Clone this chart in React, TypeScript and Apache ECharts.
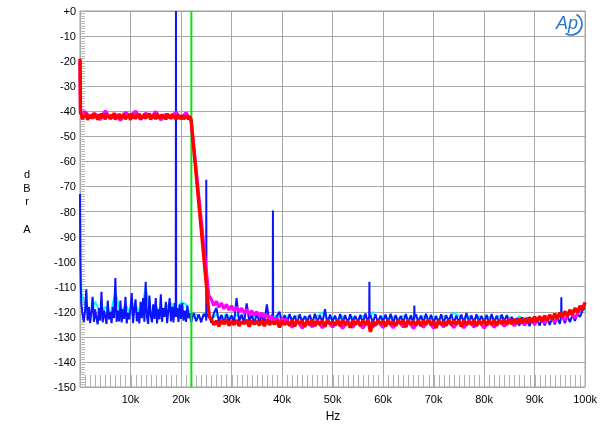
import React, { useEffect, useRef } from "react";
import * as echarts from "echarts";

// ---- axis ticks ----
const X_MIN = 0;
const X_MAX = 100000;
const X_STEP = 10000;
const X_MINOR_STEP = 1000;
const Y_MIN = -150;
const Y_MAX = 0;
const Y_STEP = 10;
const MARKER_HZ = 22050;

// ---- red trace ----
const redHead = [[0, -19], [100, -41]];
const redLow = [
  -41.0, -43.2, -41.6, -42.4, -40.7, -43.5, -41.9, -42.8,
  -41.2, -43.0, -40.6, -42.6, -41.8, -43.4, -41.1, -42.9,
  -40.9, -42.7, -41.5, -43.3, -40.8, -42.5, -41.7, -43.1,
  -41.3, -42.8, -40.6, -43.4, -41.6, -42.6, -41.0, -43.0,
  -41.4, -42.7, -40.8, -43.2, -41.9, -42.5, -41.1, -43.5,
  -40.7, -42.9, -41.5, -43.1, -41.2, -42.6, -40.9, -43.3,
  -41.7, -42.8, -41.0, -43.0, -41.4, -42.5, -40.8, -43.4,
  -41.6, -42.7, -41.1, -43.2, -40.9, -42.9, -41.5, -43.0,
  -41.2, -42.6, -41.8, -43.3, -40.9, -42.8, -41.4, -43.1,
  -41.0, -42.7, -41.6, -43.4, -41.3, -42.9, -41.7, -43.0,
  -41.5, -43.2, -41.9, -42.8, -41.6, -43.3, -42.0, -43.4,
]; // 0.25k .. 22k, 0.25k step
const redDropEnd = [25600, -122];
const redHigh = [
  -123.0, -125.2, -123.6, -125.8, -123.4, -124.9, -123.1, -125.5, -123.8, -125.1,
  -123.3, -125.6, -123.9, -124.8, -123.2, -125.9, -123.5, -125.0, -123.7, -125.4,
  -123.4, -125.7, -123.0, -125.2, -123.8, -124.9, -123.3, -126.2, -123.6, -125.1,
  -123.9, -125.5, -123.2, -125.8, -123.5, -124.7, -123.7, -126.0, -123.4, -125.3,
  -123.1, -125.6, -123.8, -125.0, -123.6, -125.9, -123.3, -124.8, -124.0, -125.4,
  -123.5, -125.7, -123.2, -125.1, -123.9, -126.3, -123.4, -125.0, -123.7, -125.6,
  -123.6, -125.2, -123.1, -128.0, -123.8, -125.5, -123.4, -124.9, -123.7, -125.8,
  -123.3, -125.1, -123.9, -125.6, -123.2, -124.8, -123.6, -126.1, -123.5, -125.0,
  -123.8, -125.4, -123.3, -125.7, -123.6, -124.9, -123.1, -125.3, -123.7, -126.4,
  -123.4, -125.0, -123.9, -125.5, -123.2, -125.2, -123.6, -124.8, -123.5, -125.9,
  -123.3, -125.3, -123.8, -125.0, -123.4, -125.6, -123.7, -124.9, -123.2, -125.4,
  -123.6, -125.1, -123.3, -125.5, -123.5, -124.8, -123.1, -125.2, -123.0, -124.9,
  -122.9, -124.8, -122.7, -124.6, -122.6, -124.5, -122.3, -124.2, -122.0, -124.0,
  -121.9, -123.8, -121.6, -123.5, -121.2, -123.1, -120.8, -122.7, -120.3, -122.2,
  -119.8, -121.6, -119.2, -121.0, -118.5, -120.2, -117.6, -119.3, -116.2,
]; // 26k .. 100k, 0.5k step

// ---- magenta trace ----
const magHead = [[0, -20], [100, -40.5]];
const magLow = [
  -40.2, -42.5, -41.0, -43.4, -39.8, -42.9, -41.3, -43.6, -40.4, -42.2,
  -39.9, -43.3, -40.8, -42.7, -40.1, -43.5, -41.2, -42.4, -40.3, -43.1,
  -40.6, -43.6,
]; // 1k .. 22k, 1k step
const magDropEnd = [25500, -113.5];
const magMid = [
  -115.0, -117.5, -115.8, -118.2, -116.5, -118.8, -117.0, -119.3, -117.6, -119.6,
  -118.1, -120.0, -118.6, -120.5, -119.0, -121.0, -119.6, -121.4, -120.0, -121.8,
  -120.5, -122.3, -121.2, -123.0, -121.8, -123.6, -122.4, -124.5, -122.8,
]; // 26k .. 40k, 0.5k step
const magHigh = [
  -123.6, -126.2, -123.4, -126.5, -123.8, -126.0, -123.5, -126.4, -123.7, -126.1,
  -123.4, -126.6, -123.9, -126.2, -123.5, -126.5, -123.6, -126.0, -123.8, -126.3,
  -123.5, -126.4, -123.7, -126.1, -123.4, -126.6, -123.8, -126.2, -123.6, -126.5,
  -123.9, -126.0, -123.5, -126.3, -123.7, -126.4, -123.4, -126.1, -123.6, -126.5,
  -123.5, -126.2, -123.3, -125.8, -123.0, -125.6, -122.8, -125.3, -122.5, -125.0,
  -122.1, -124.6, -121.6, -124.1, -121.0, -123.4, -120.2, -122.5, -119.0, -117.0,
]; // 41k .. 100k, 1k step

// ---- blue trace ----
const blueHead = [[0, -73], [80, -100], [160, -110]];
const blueLow = [
  -116.5, -121.0, -124.0, -119.5, -111.0, -123.5, -118.0, -124.5,
  -120.0, -114.0, -124.0, -119.0, -122.5, -125.0, -118.5, -123.5,
  -112.0, -124.2, -119.5, -122.0, -124.8, -115.5, -123.0, -120.0,
  -124.5, -118.0, -122.5, -106.5, -124.0, -119.5, -123.8, -115.5,
  -124.2, -119.0, -122.8, -114.0, -124.6, -120.5, -123.0, -118.5,
  -112.5, -124.5, -119.0, -115.0, -123.8, -120.0, -124.6, -116.0,
  -122.5, -114.5, -124.0, -108.0, -122.0, -124.8, -113.5, -121.5,
  -124.2, -117.0, -122.8, -114.5, -124.6, -119.0, -123.0, -113.0,
  -124.0, -118.5, -122.0, -116.0, -124.5, -119.5, -114.5, -123.8,
  -118.0, -124.2, -116.5, -122.0, -118.5, -124.0, -117.0, -122.8,
  -116.5, -123.5, -119.5, -124.0, -117.5, -122.5, -120.5, -124.3,
]; // 0.25k .. 22k, 0.25k step
const blueHigh = [
  -120.5, -123.8, -121.0, -124.2, -120.8, -123.5,
  -121.0, -124.4, -120.6, -118.5, -123.9, -121.2, -124.6, -120.9, -123.7, -121.4,
  -124.5, -114.5, -123.8, -121.1, -124.3, -116.6, -123.6, -121.3, -124.7, -120.8,
  -124.1, -121.5, -123.9, -117.0, -124.4, -121.2, -124.0, -121.6, -120.0, -124.5,
  -121.3, -124.2, -120.9, -123.8, -121.5, -124.6, -121.0, -124.1, -121.7, -123.9,
  -121.2, -124.5, -120.8, -124.0, -121.4, -124.3, -119.0, -124.6, -121.1, -123.8,
  -121.5, -124.4, -120.9, -124.1, -121.3, -124.7, -121.0, -123.9, -121.6, -124.2,
  -121.2, -124.5, -120.7, -124.0, -121.4, -124.3, -121.0, -124.6, -121.5, -123.8,
  -121.1, -124.2, -120.8, -124.5, -121.3, -123.9, -121.6, -124.4, -120.9, -124.1,
  -121.4, -124.6, -121.0, -123.9, -121.5, -124.3, -120.8, -124.0, -121.2, -124.5,
  -121.6, -124.2, -121.0, -124.4, -121.3, -123.8, -120.9, -124.6, -121.5, -124.1,
  -121.1, -124.3, -120.5, -124.0, -121.4, -124.5, -121.0, -123.9, -121.6, -124.2,
  -121.2, -124.6, -120.9, -124.1, -121.5, -124.4, -121.1, -123.8, -121.3, -124.5,
  -122.0, -125.2, -122.6, -125.6, -122.2, -125.0, -122.4, -125.7, -122.5, -125.3,
  -122.8, -125.5, -122.6, -125.4, -122.3, -125.2, -122.4, -125.0, -122.1, -124.8,
  -121.8, -124.5, -121.6, -124.1, -121.3, -123.6, -120.8, -122.0, -119.4, -118.5,
]; // 22.5k .. 100k, 0.5k step
const blueSpikes = [
  [19000, 0],
  [25000, -67.3],
  [38200, -79.6],
  [57300, -108],
  [66200, -117.5],
  [95300, -114.2],
];
const blueSpikeBase = -122;

// ---- cyan trace ----
const cyanHead = [[0, -75], [100, -102], [300, -113]];
const cyanNoise = [
  -117.5, -121.0, -116.0, -120.5, -118.0, -121.5, -112.0, -120.8, -117.0, -121.2,
  -117.5, -120.6, -110.5, -121.0, -117.8, -120.4, -118.0, -116.5, -120.8, -116.0,
  -117.0, -121.2, -121.0, -122.8, -120.8, -123.0, -121.2, -122.9, -121.0, -122.7,
  -121.2, -123.0, -119.5, -122.8, -121.1, -123.1, -120.5, -122.9, -121.3, -123.0,
  -121.8, -123.4, -121.6, -123.2, -122.0, -123.5, -121.7, -120.2, -123.3, -121.9,
  -123.4, -121.7, -123.2, -122.0, -123.5, -121.6, -123.3, -120.0, -123.4, -121.8,
  -123.2, -121.9, -123.5, -121.6, -123.3, -122.0, -123.4, -121.7, -123.2, -121.9,
  -123.5, -121.6, -123.3, -120.3, -121.6, -123.2, -121.8, -123.4, -121.7, -123.3,
  -121.9, -123.5, -121.6, -123.2, -122.0, -123.4, -121.8, -123.3, -122.1, -123.6,
  -121.6, -123.4, -121.4, -123.2, -121.0, -122.8, -120.6, -121.8, -120.0, -119.0,
]; // 1k .. 100k, 1k step

function onGrid(startHz: number, stepHz: number, values: number[]) {
  return values.map((v, i) => [startHz + i * stepHz, v]);
}

function withSpikes(base: number[][], spikes: number[][], floor: number) {
  const extra: number[][] = [];
  spikes.forEach(([f, p]) => {
    extra.push([f - 40, floor], [f, p], [f + 40, floor]);
  });
  return [...base, ...extra].sort((a, b) => a[0] - b[0]);
}

const FONT = "'Liberation Sans', Arial, sans-serif";

export default function App() {
  const ref = useRef<HTMLDivElement>(null);

  useEffect(() => {
    if (!ref.current) return;
    const chart = echarts.init(ref.current, undefined, { renderer: "svg" });

    const redData = [
      ...redHead,
      ...onGrid(250, 250, redLow),
      redDropEnd,
      ...onGrid(26000, 500, redHigh),
    ];
    const magData = [
      ...magHead,
      ...onGrid(1000, 1000, magLow),
      magDropEnd,
      ...onGrid(26000, 500, magMid),
      ...onGrid(41000, 1000, magHigh),
    ];
    const blueData = withSpikes(
      [...blueHead, ...onGrid(250, 250, blueLow), ...onGrid(22500, 500, blueHigh)],
      blueSpikes,
      blueSpikeBase
    );
    const cyanData = [...cyanHead, ...onGrid(1000, 1000, cyanNoise)];

    // minor tick positions along the bottom axis
    const xMinorTicks: number[][] = [];
    for (let f = X_MIN; f <= X_MAX; f += X_MINOR_STEP) xMinorTicks.push([f, Y_MIN]);

    const line = (name: string, data: number[][], color: string, width: number) => ({
      name,
      type: "line",
      data,
      showSymbol: false,
      symbol: "none",
      silent: true,
      clip: true,
      lineStyle: { color, width, join: "bevel" },
    });

    chart.setOption({
      animation: false,
      grid: {
        left: 80,
        right: 14,
        top: 11,
        bottom: 46,
        show: true,
        borderColor: "#a0a0a0",
        borderWidth: 1,
      },
      xAxis: {
        type: "value",
        min: X_MIN,
        max: X_MAX,
        interval: X_STEP,
        axisLine: { show: true, lineStyle: { color: "#a0a0a0" } },
        axisTick: { show: false },
        minorTick: { show: false },
        splitLine: { show: true, lineStyle: { color: "#a8a8a8", width: 1 } },
        axisLabel: {
          margin: 6,
          color: "#000",
          fontFamily: FONT,
          fontSize: 11,
          formatter: (v: number) => (v === 0 ? "" : v / 1000 + "k"),
        },
      },
      yAxis: {
        type: "value",
        min: Y_MIN,
        max: Y_MAX,
        interval: Y_STEP,
        axisLine: { show: true, lineStyle: { color: "#a0a0a0" } },
        axisTick: { show: true, inside: true, length: 5, lineStyle: { color: "#b0b0b0" } },
        minorTick: { show: true, splitNumber: 10, length: 5, lineStyle: { color: "#b8b8b8" } },
        splitLine: { show: true, lineStyle: { color: "#a8a8a8", width: 1 } },
        axisLabel: {
          margin: 4,
          color: "#000",
          fontFamily: FONT,
          fontSize: 11,
          formatter: (v: number) => (v === 0 ? "+0" : String(v)),
        },
      },
      series: [
        {
          name: "xticks",
          type: "custom",
          silent: true,
          data: xMinorTicks,
          renderItem: (_params: any, api: any) => {
            const p = api.coord([api.value(0), api.value(1)]);
            const x = Math.round(p[0]) + 0.5;
            return {
              type: "line",
              shape: { x1: x, y1: p[1], x2: x, y2: p[1] - 12 },
              style: { stroke: "#b0b0b0", lineWidth: 1 },
            };
          },
        },
        line("cyan", cyanData, "#00ffff", 2),
        line("blue", blueData, "#0a14ff", 2),
        line(
          "marker",
          [
            [MARKER_HZ, Y_MAX],
            [MARKER_HZ, Y_MIN],
          ],
          "#11dd11",
          2
        ),
        line("magenta", magData, "#ff00ff", 3.2),
        line("red", redData, "#ff0000", 3.4),
      ],
      graphic: [
        {
          type: "text",
          x: 27,
          y: 167,
          style: {
            text: "d\nB\nr\n\nA",
            fontFamily: FONT,
            fontSize: 11,
            lineHeight: 13.7,
            fill: "#000",
            align: "center",
            verticalAlign: "top",
          },
        },
        {
          type: "text",
          x: 333,
          y: 416,
          style: {
            text: "Hz",
            fontFamily: FONT,
            fontSize: 12,
            fill: "#000",
            align: "center",
            verticalAlign: "middle",
          },
        },
        {
          type: "text",
          x: 556,
          y: 14,
          style: {
            text: "Ap",
            fontFamily: FONT,
            fontSize: 18,
            fontStyle: "italic",
            fill: "#2a78c8",
          },
        },
        {
          type: "arc",
          shape: { cx: 571, cy: 24, r: 11, startAngle: -Math.PI / 3, endAngle: (2 * Math.PI) / 3, clockwise: true },
          style: { stroke: "#2a78c8", lineWidth: 1.6, fill: "none" },
        },
      ],
    });

    return () => chart.dispose();
  }, []);

  return (
    <div
      ref={ref}
      style={{ position: "fixed", left: 0, top: 0, width: 600, height: 433 }}
    />
  );
}
